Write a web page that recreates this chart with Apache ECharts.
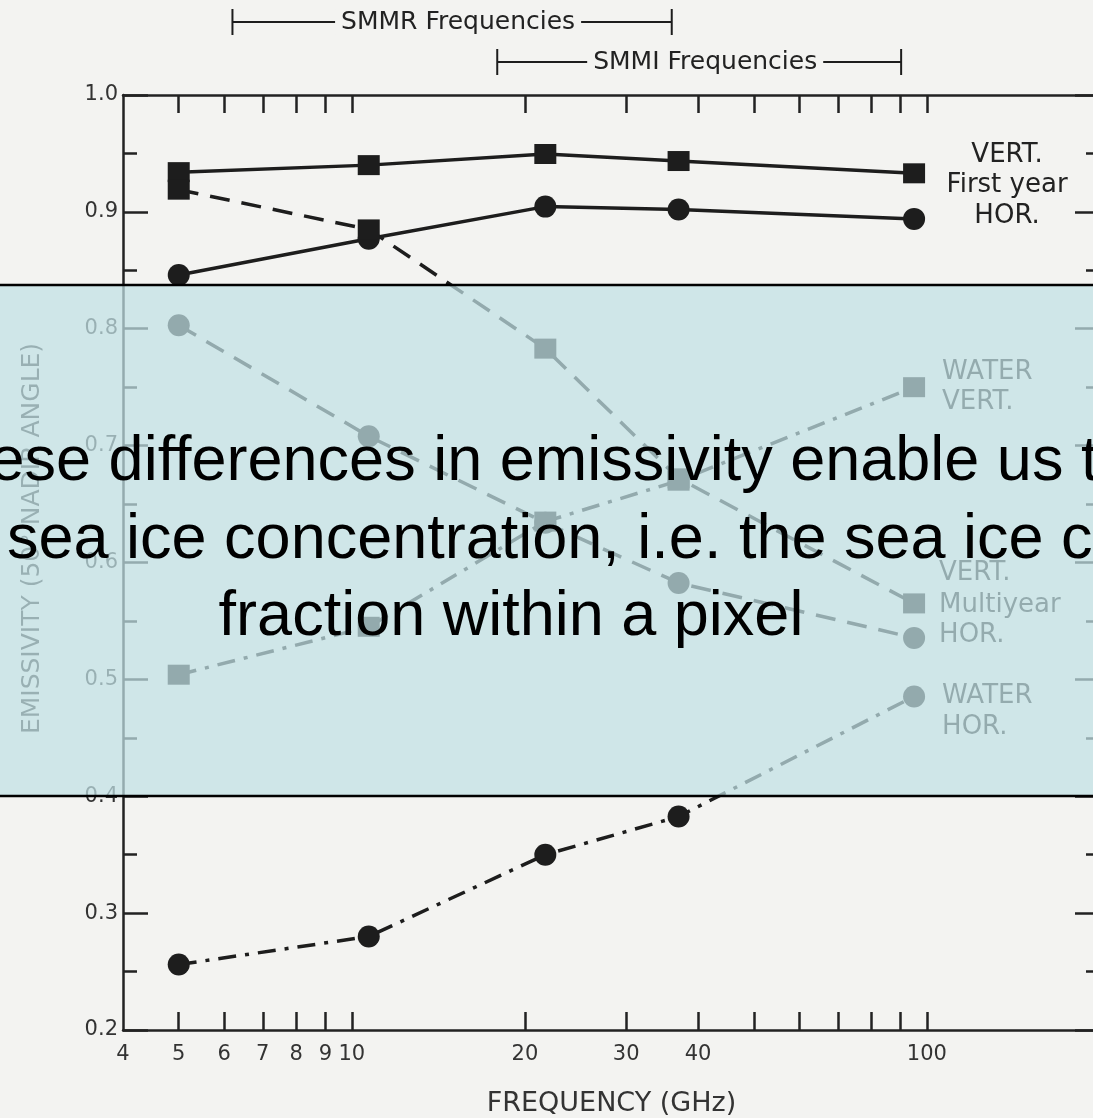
<!DOCTYPE html>
<html><head><meta charset="utf-8">
<script src="https://cdn.jsdelivr.net/npm/echarts@6/dist/echarts.min.js"></script>
<style>html,body{margin:0;padding:0;background:#f3f3f1;}#c{width:1093px;height:1118px;}</style>
</head><body><div id="c"></div><script>
// ---- data ----
const freqs = [5, 10.7, 21.7, 37, 95];          // GHz
const firstYearV = [0.934, 0.940, 0.9495, 0.9435, 0.933];
const firstYearH = [0.846, 0.877, 0.9045, 0.902, 0.894];
const multiYearV = [0.919, 0.885, 0.783, 0.672, 0.565];
const multiYearH = [0.803, 0.708, 0.634, 0.5825, 0.5355];
const waterV = [0.504, 0.545, 0.635, 0.670, 0.750];
const waterH = [0.256, 0.280, 0.350, 0.3826, 0.4854];
const xTickValues = [5, 6, 7, 8, 9, 10, 20, 30, 40, 50, 60, 70, 80, 90, 100];
const xLabelValues = [4, 5, 6, 7, 8, 9, 10, 20, 30, 40, 100];
const smmrRange = [6.2, 36];
const ssmiRange = [17.9, 90.2];
const overlayLines = [
  'These differences in emissivity enable us to',
  'sea ice concentration, i.e. the sea ice covered',
  'fraction within a pixel'
];

const ink = '#1d1d1d';
const chart = echarts.init(document.getElementById('c'), null, {renderer: 'canvas'});

function mk(name, ys, symbol, dash) {
  return {
    name, type: 'line', xAxisIndex: 0, yAxisIndex: 0,
    data: freqs.map((f, i) => [f, ys[i]]),
    symbol, symbolSize: symbol === 'rect' ? [22, 20] : 22, showSymbol: true,
    lineStyle: {color: ink, width: 3.5, type: dash, cap: 'butt'},
    itemStyle: {color: ink, borderWidth: 0},
    emphasis: {disabled: true}, animation: false, z: 3
  };
}
const axisFont = {fontFamily: 'DejaVu Sans', fontSize: 21, color: '#333'};
const xAxisBase = (pos, showLabel) => ({
  type: 'log', logBase: 10, min: 4, max: 200, position: pos, gridIndex: 0,
  axisLine: {show: true, onZero: false, lineStyle: {color: '#222', width: 2.5}},
  axisTick: {show: true, inside: true, length: 18, customValues: xTickValues, lineStyle: {color: '#222', width: 2.5}},
  axisLabel: Object.assign({show: showLabel, customValues: xLabelValues, margin: 14,
    formatter: v => String(Math.round(v))}, axisFont),
  minorTick: {show: false}, splitLine: {show: false},
  name: showLabel ? 'FREQUENCY (GHz)' : '', nameLocation: 'middle', nameGap: 60,
  nameTextStyle: {fontFamily: 'DejaVu Sans', fontSize: 27, color: '#333'}
});
const yAxisBase = (pos, showLabel) => ({
  type: 'value', min: 0.2, max: 1.0, interval: 0.1, position: pos, gridIndex: 0,
  axisLine: {show: true, onZero: false, lineStyle: {color: '#222', width: 2.5}},
  axisTick: {show: true, inside: true, length: 25, lineStyle: {color: '#222', width: 2.5}},
  minorTick: {show: true, splitNumber: 2, length: 14, lineStyle: {color: '#222', width: 2.5}},
  axisLabel: Object.assign({show: showLabel, margin: 5, formatter: v => v.toFixed(1)}, axisFont),
  splitLine: {show: false}, minorSplitLine: {show: false},
  name: showLabel ? 'EMISSIVITY (50° NADIR ANGLE)' : '', nameLocation: 'middle', nameGap: 78,
  nameTextStyle: {fontFamily: 'DejaVu Sans', fontSize: 25, color: '#333', padding: [0, 0, 0, 48]}
});

chart.setOption({
  backgroundColor: '#f3f3f1',
  animation: false,
  grid: {left: 123, right: -7, top: 95, bottom: 88, containLabel: false, outerBoundsMode: 'none'},
  xAxis: [xAxisBase('bottom', true), xAxisBase('top', false)],
  yAxis: [yAxisBase('left', true), yAxisBase('right', false)],
  series: [
    mk('First year VERT.', firstYearV, 'rect', 'solid'),
    mk('First year HOR.', firstYearH, 'circle', 'solid'),
    mk('Multiyear VERT.', multiYearV, 'rect', [20, 12]),
    mk('Multiyear HOR.', multiYearH, 'circle', [20, 12]),
    mk('WATER VERT.', waterV, 'rect', [18, 9, 4, 9]),
    mk('WATER HOR.', waterH, 'circle', [18, 9, 4, 9])
  ]
});

// ---- annotations positioned from the axes ----
const px = (f, v) => chart.convertToPixel({xAxisIndex: 0, yAxisIndex: 0}, [f, v]);
const topY = px(10, 1.0)[1];
const lastX = px(freqs[freqs.length - 1], 0.5)[0];
const g = [];
function bracket(range, label, y) {
  const x1 = px(range[0], 1)[0], x2 = px(range[1], 1)[0];
  const ls = {stroke: ink, lineWidth: 2};
  g.push({type: 'line', shape: {x1, y1: y, x2, y2: y}, style: ls, z: 10});
  g.push({type: 'line', shape: {x1, y1: y - 13, x2: x1, y2: y + 13}, style: ls, z: 10});
  g.push({type: 'line', shape: {x1: x2, y1: y - 13, x2, y2: y + 13}, style: ls, z: 10});
  g.push({type: 'text', x: (x1 + x2) / 2 + 6, y, z: 11,
    style: {text: label, fill: '#222', font: '25px "DejaVu Sans"', align: 'center', verticalAlign: 'middle',
      backgroundColor: '#f3f3f1', padding: [0, 6, 0, 6]}});
}
bracket(smmrRange, 'SMMR Frequencies', topY - 73);
bracket(ssmiRange, 'SMMI Frequencies', topY - 33);

function lab(text, x, v, align) {
  g.push({type: 'text', x, y: px(10, v)[1], z: 12,
    style: {text, fill: '#222', font: '26px "DejaVu Sans"', align, verticalAlign: 'middle'}});
}
lab('VERT.', lastX + 93, 0.9485, 'center');
lab('First year', lastX + 93, 0.923, 'center');
lab('HOR.', lastX + 93, 0.8965, 'center');
lab('WATER', lastX + 28, 0.763, 'left');
lab('VERT.', lastX + 28, 0.737, 'left');
lab('VERT.', lastX + 25, 0.5905, 'left');
lab('Multiyear', lastX + 25, 0.563, 'left');
lab('HOR.', lastX + 25, 0.5375, 'left');
lab('WATER', lastX + 28, 0.4855, 'left');
lab('HOR.', lastX + 28, 0.4590, 'left');

// overlay box with text
g.push({type: 'rect', shape: {x: -10, y: 285, width: 1120, height: 511}, z: 100,
  style: {fill: 'rgba(192,225,229,0.72)', stroke: '#000', lineWidth: 2.5}});
const tFont = '63px "Liberation Sans"';
g.push({type: 'text', x: -84, y: 463, z: 101, style: {text: overlayLines[0], fill: '#000', font: tFont, align: 'left', verticalAlign: 'middle'}});
g.push({type: 'text', x: 7, y: 541, z: 101, style: {text: overlayLines[1], fill: '#000', font: tFont, align: 'left', verticalAlign: 'middle'}});
g.push({type: 'text', x: 511, y: 618, z: 101, style: {text: overlayLines[2], fill: '#000', font: tFont, align: 'center', verticalAlign: 'middle'}});

chart.setOption({graphic: {elements: g}});
</script></body></html>
